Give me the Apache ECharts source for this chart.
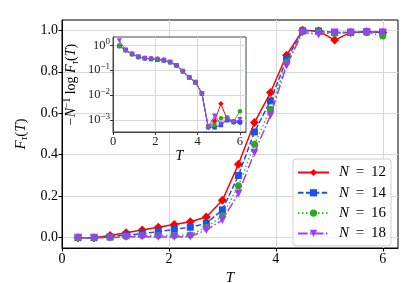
<!DOCTYPE html>
<html><head><meta charset="utf-8">
<script src="https://cdn.jsdelivr.net/npm/echarts@6/dist/echarts.min.js"></script>
<style>html,body{margin:0;padding:0;background:#fff}#c{width:415px;height:283px}</style>
</head><body><div id="c"></div>
<script>
// ---- data ----
const T = [0.3, 0.6, 0.9, 1.2, 1.5, 1.8, 2.1, 2.4, 2.7, 3.0, 3.3, 3.6, 3.9, 4.2, 4.5, 4.8, 5.1, 5.4, 5.7, 6.0];
const seriesNames = ['N = 12', 'N = 14', 'N = 16', 'N = 18'];
// main panel: F_tau(T)
const F12 = [0.0, 0.0, 0.010, 0.024, 0.037, 0.050, 0.063, 0.077, 0.100, 0.180, 0.354, 0.555, 0.700, 0.880, 1.000, 0.997, 0.953, 0.990, 0.993, 0.990];
const F14 = [0.0, 0.0, 0.003, 0.013, 0.019, 0.029, 0.040, 0.050, 0.069, 0.134, 0.300, 0.510, 0.660, 0.860, 0.998, 0.997, 0.990, 0.990, 0.993, 0.990];
const F16 = [0.0, 0.0, 0.002, 0.006, 0.010, 0.010, 0.010, 0.013, 0.050, 0.105, 0.250, 0.450, 0.620, 0.845, 0.995, 0.993, 0.985, 0.990, 0.990, 0.973];
const F18 = [0.0, 0.0, 0.000, 0.003, 0.005, 0.003, 0.003, 0.005, 0.037, 0.085, 0.213, 0.410, 0.590, 0.830, 0.990, 0.980, 0.990, 0.990, 0.990, 0.990];
// inset: -N^-1 log F_tau(T)
const G12 = [0.95, 0.64, 0.44, 0.34, 0.30, 0.285, 0.28, 0.26, 0.21, 0.155, 0.091, 0.052, 0.033, 0.0118, 0.00050, 0.00091, 0.0045, 0.0010, 0.00083, 0.00083];
const G14 = [0.93, 0.63, 0.44, 0.34, 0.30, 0.28, 0.26, 0.245, 0.21, 0.155, 0.090, 0.051, 0.032, 0.0115, 0.00053, 0.00051, 0.00063, 0.0010, 0.00083, 0.00081];
const G16 = [0.93, 0.63, 0.44, 0.34, 0.30, 0.28, 0.27, 0.25, 0.21, 0.155, 0.091, 0.051, 0.033, 0.0117, 0.00054, 0.00063, 0.00117, 0.00129, 0.00089, 0.00224];
const G18 = [1.50, 0.64, 0.44, 0.34, 0.30, 0.28, 0.275, 0.25, 0.21, 0.155, 0.091, 0.051, 0.033, 0.0117, 0.00054, 0.00145, 0.00069, 0.00107, 0.00083, 0.00105];
// tick labels
const mainXTicks = [0, 2, 4, 6];
const mainYTicks = [0, 0.2, 0.4, 0.6, 0.8, 1.0];
const insetXTicks = [0, 2, 4, 6];
const insetYTicks = [0.001, 0.01, 0.1, 1];

// ---- styles ----
const serif = "'Liberation Serif','DejaVu Serif',serif";
const sty = [
  {color: '#ff0000', mcolor: '#ff0000', symbol: 'diamond', size: 9, isize: 5.5, rot: 0, dash: 'solid'},
  {color: '#1f4fe8', mcolor: '#1f4fe8', symbol: 'rect', size: 7, isize: 4.5, rot: 0, dash: [5.5, 2.4]},
  {color: '#3cc020', mcolor: '#2ea81c', symbol: 'circle', size: 7, isize: 4.5, rot: 0, dash: [1.5, 2.5]},
  {color: '#9d3cff', mcolor: '#9d3cff', symbol: 'triangle', size: 8, isize: 5, rot: 180, dash: [9.6, 2.4, 1.5, 2.4]}
];
const mainData = [F12, F14, F16, F18];
const insetData = [G12, G14, G16, G18];
const pairs = arr => T.map((t, i) => [t, arr[i]]);

const series = [];
mainData.forEach((d, k) => {
  const s = sty[k];
  series.push({
    name: seriesNames[k], type: 'line', xAxisIndex: 0, yAxisIndex: 0,
    data: pairs(d), symbol: s.symbol, symbolSize: s.size, symbolRotate: s.rot,
    showAllSymbol: true, z: 3 + k,
    itemStyle: {color: s.mcolor},
    lineStyle: {color: s.color, width: 1.5, type: s.dash},
    emphasis: {disabled: true}
  });
});
insetData.forEach((d, k) => {
  const s = sty[k];
  series.push({
    name: seriesNames[k], type: 'line', xAxisIndex: 1, yAxisIndex: 1,
    data: pairs(d), symbol: s.symbol, symbolSize: s.isize, symbolRotate: s.rot,
    showAllSymbol: true, z: 12 + k,
    itemStyle: {color: s.mcolor},
    lineStyle: {color: s.color, width: 1},
    emphasis: {disabled: true}
  });
});

const supFmt = v => {
  const e = Math.round(Math.log10(v));
  return '{b|10}{s|' + (e < 0 ? '\u2212' + (-e) : e) + '}';
};

const option = {
  animation: false,
  backgroundColor: '#fff',
  grid: [
    {left: 62, right: 17, top: 20, bottom: 35, outerBoundsMode: 'none', containLabel: false,
     show: true, borderColor: '#000', borderWidth: 1, backgroundColor: 'transparent'},
    {left: 113, right: 169, top: 37, bottom: 151, outerBoundsMode: 'none', containLabel: false,
     show: true, borderColor: '#333', borderWidth: 0.9, backgroundColor: '#fff', z: 8}
  ],
  xAxis: [
    {
      gridIndex: 0, type: 'value', min: 0, max: 6.285,
      axisLine: {show: true, onZero: false, lineStyle: {color: '#000', width: 1}},
      axisTick: {show: true, length: 3.5, customValues: mainXTicks, lineStyle: {color: '#000'}},
      axisLabel: {customValues: mainXTicks, fontFamily: serif, fontSize: 14, color: '#000', margin: 4},
      splitLine: {show: true, lineStyle: {color: '#d5d9d9', width: 1}},
      name: 'T', nameLocation: 'middle', nameGap: 21,
      nameTextStyle: {fontFamily: serif, fontStyle: 'italic', fontSize: 15, color: '#000'}
    },
    {
      gridIndex: 1, type: 'value', min: 0, max: 6.285, z: 9,
      axisLine: {show: true, onZero: false, lineStyle: {color: '#333', width: 0.9}},
      axisTick: {show: true, length: 3, customValues: insetXTicks, lineStyle: {color: '#333'}},
      axisLabel: {customValues: insetXTicks, fontFamily: serif, fontSize: 12.5, color: '#222', margin: 3},
      splitLine: {show: true, lineStyle: {color: '#d5d9d9', width: 1}},
      name: 'T', nameLocation: 'middle', nameGap: 14,
      nameTextStyle: {fontFamily: serif, fontStyle: 'italic', fontSize: 14, color: '#000'}
    }
  ],
  yAxis: [
    {
      gridIndex: 0, type: 'value', min: -0.05, max: 1.05,
      axisLine: {show: true, onZero: false, lineStyle: {color: '#000', width: 1}},
      axisTick: {show: true, length: 3.5, customValues: mainYTicks, lineStyle: {color: '#000'}},
      axisLabel: {customValues: mainYTicks, fontFamily: serif, fontSize: 14, color: '#000', margin: 4,
        formatter: v => v.toFixed(1)},
      splitLine: {show: true, lineStyle: {color: '#d5d9d9', width: 1}},
      name: '{i|F}{sub|\u03c4}{n|(}{i|T}{n|)}', nameLocation: 'middle', nameGap: 30, nameRotate: 90,
      nameTextStyle: {
        color: '#000',
        rich: {
          i: {fontFamily: serif, fontStyle: 'italic', fontSize: 15, lineHeight: 18, verticalAlign: 'middle', color: '#000'},
          n: {fontFamily: serif, fontSize: 15, lineHeight: 18, verticalAlign: 'middle', color: '#000'},
          sub: {fontFamily: serif, fontStyle: 'italic', fontSize: 10, lineHeight: 10, verticalAlign: 'bottom', color: '#000'}
        }
      }
    },
    {
      gridIndex: 1, type: 'log', logBase: 10, min: Math.pow(10, -3.48), max: Math.pow(10, 0.33), z: 9,
      axisLine: {show: true, onZero: false, lineStyle: {color: '#333', width: 0.9}},
      axisTick: {show: true, length: 3, customValues: insetYTicks, lineStyle: {color: '#333'}},
      axisLabel: {
        customValues: insetYTicks, margin: 3, formatter: supFmt,
        rich: {
          b: {fontFamily: serif, fontSize: 12.5, lineHeight: 16, verticalAlign: 'middle', color: '#222'},
          s: {fontFamily: serif, fontSize: 9, lineHeight: 9, verticalAlign: 'top', color: '#222'}
        }
      },
      splitLine: {show: true, lineStyle: {color: '#d5d9d9', width: 1}},
      name: '{n|\u2212}{i|N}{s|\u22121}{n| log }{i|F}{sub|\u03c4}{n|(}{i|T}{n|)}',
      nameLocation: 'middle', nameGap: 33, nameRotate: 90,
      nameTextStyle: {
        color: '#000',
        rich: {
          i: {fontFamily: serif, fontStyle: 'italic', fontSize: 14, lineHeight: 18, verticalAlign: 'middle', color: '#000'},
          n: {fontFamily: serif, fontSize: 14, lineHeight: 18, verticalAlign: 'middle', color: '#000'},
          s: {fontFamily: serif, fontSize: 9.5, lineHeight: 9, verticalAlign: 'top', color: '#000'},
          sub: {fontFamily: serif, fontStyle: 'italic', fontSize: 9.5, lineHeight: 10, verticalAlign: 'bottom', color: '#000'}
        }
      }
    }
  ],
  legend: {
    data: seriesNames, orient: 'vertical', left: 293, top: 159,
    itemWidth: 31, itemHeight: 9, itemGap: 5.3,
    padding: [6, 5, 5, 4],
    backgroundColor: 'rgba(255,255,255,0.8)', borderColor: '#d0d0d0', borderWidth: 1, borderRadius: 3,
    z: 20,
    formatter: name => '{i|N}{n| \u2009=\u2009 ' + name.split('= ')[1] + '}',
    textStyle: {
      rich: {
        i: {fontFamily: serif, fontStyle: 'italic', fontSize: 15, lineHeight: 14, color: '#000', padding: [0, 0, 0, 5]},
        n: {fontFamily: serif, fontSize: 15, lineHeight: 14, color: '#000'}
      }
    }
  },
  series: series
};
const chart = echarts.init(document.getElementById('c'), null, {renderer: 'canvas'});
chart.setOption(option);
</script>
</body></html>
